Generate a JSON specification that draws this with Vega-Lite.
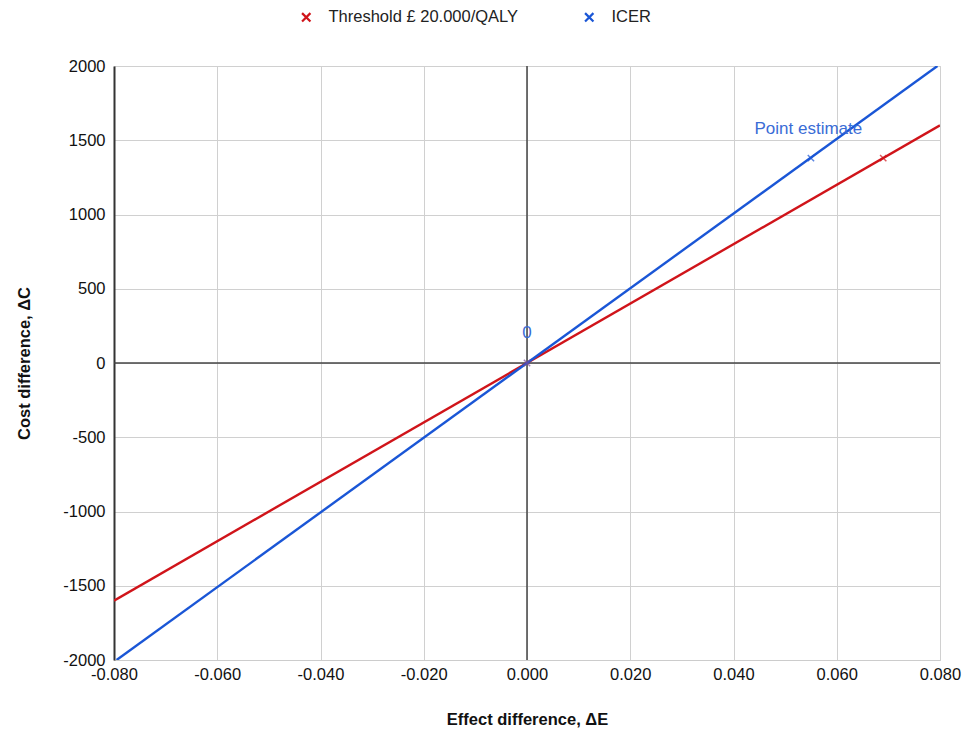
{
  "$schema": "https://vega.github.io/schema/vega-lite/v6.json",
  "width": 826,
  "height": 594,
  "autosize": {"type": "none"},
  "padding": {"left": 114, "top": 66, "right": 34, "bottom": 73},
  "background": "white",
  "config": {
    "font": "Liberation Sans",
    "view": {"stroke": "#cccccc", "strokeWidth": 1},
    "scale": {"continuousPadding": 0},
    "axis": {
      "grid": true,
      "gridColor": "#d0d0d0",
      "gridWidth": 1,
      "labelFont": "Liberation Sans",
      "labelFontSize": 16.5,
      "labelColor": "#111111",
      "labelFlush": false,
      "ticks": false,
      "titleFont": "Liberation Sans",
      "titleFontSize": 16.5,
      "titleFontWeight": "bold",
      "titleColor": "#111111"
    },
    "legend": {
      "labelFont": "Liberation Sans",
      "labelFontSize": 16.5,
      "labelColor": "#222222",
      "labelLimit": 400,
      "symbolType": "M-1,-1L1,1M-1,1L1,-1",
      "symbolSize": 70,
      "symbolStrokeWidth": 2.2
    }
  },
  "datasets": {
    "lines": [
      {"series": "Threshold £ 20.000/QALY", "dE": -0.08, "dC": -1600},
      {"series": "Threshold £ 20.000/QALY", "dE": 0.08, "dC": 1600},
      {"series": "ICER", "dE": -0.0795, "dC": -2000},
      {"series": "ICER", "dE": 0.0795, "dC": 2000}
    ],
    "points": [
      {"series": "ICER", "dE": 0.055, "dC": 1380},
      {"series": "Threshold £ 20.000/QALY", "dE": 0.069, "dC": 1380}
    ],
    "labels": [
      {"label": "Point estimate", "dE": 0.0545, "dC": 1575},
      {"label": "0", "dE": 0.0, "dC": 205}
    ],
    "zero": [
      {"dE": 0, "dC": 0}
    ]
  },
  "encoding": {
    "x": {
      "field": "dE", "type": "quantitative",
      "scale": {"domain": [-0.08, 0.08], "nice": false, "zero": false, "padding": 0},
      "axis": {
        "values": [-0.08, -0.06, -0.04, -0.02, 0, 0.02, 0.04, 0.06, 0.08],
        "labelExpr": "replace(format(datum.value, '.3f'), '\u2212', '-')",
        "title": "Effect difference, ΔE",
        "labelPadding": 6,
        "titlePadding": 29,
        "domain": true,
        "domainColor": "#cccccc",
        "domainWidth": 1
      }
    },
    "y": {
      "field": "dC", "type": "quantitative",
      "scale": {"domain": [-2000, 2000], "nice": false, "zero": false, "padding": 0},
      "axis": {
        "values": [-2000, -1500, -1000, -500, 0, 500, 1000, 1500, 2000],
        "labelExpr": "replace(format(datum.value, 'd'), '\u2212', '-')",
        "title": "Cost difference, ΔC",
        "labelPadding": 9,
        "titlePadding": 30,
        "domain": true,
        "domainColor": "#333333",
        "domainWidth": 2
      }
    }
  },
  "layer": [
    {
      "data": {"name": "zero"},
      "mark": {"type": "rule", "color": "#444444", "strokeWidth": 1.5},
      "encoding": {"y": null}
    },
    {
      "data": {"name": "zero"},
      "mark": {"type": "rule", "color": "#444444", "strokeWidth": 1.5},
      "encoding": {"x": null}
    },
    {
      "data": {"name": "lines"},
      "mark": {"type": "line", "strokeWidth": 2.4, "clip": true},
      "encoding": {
        "color": {
          "field": "series", "type": "nominal",
          "scale": {"domain": ["Threshold £ 20.000/QALY", "ICER"], "range": ["#d0141a", "#1a56d6"]},
          "legend": {
            "title": null,
            "orient": "none",
            "direction": "horizontal",
            "legendX": 184,
            "legendY": -57,
            "columnPadding": 61,
            "labelOffset": 14
          }
        }
      }
    },
    {
      "data": {"name": "points"},
      "mark": {"type": "point", "shape": "M-1,-1L1,1M-1,1L1,-1", "size": 40, "strokeWidth": 1.5, "filled": false},
      "encoding": {
        "color": {"field": "series", "type": "nominal", "legend": null}
      }
    },
    {
      "data": {"name": "zero"},
      "mark": {"type": "point", "shape": "M-1,-1L1,1M-1,1L1,-1", "size": 40, "strokeWidth": 1.5, "filled": false, "color": "#7a4a9a"}
    },
    {
      "data": {"name": "labels"},
      "mark": {"type": "text", "color": "#3a6cd6", "fontSize": 17, "font": "Liberation Sans"},
      "encoding": {
        "text": {"field": "label"}
      }
    }
  ]
}
